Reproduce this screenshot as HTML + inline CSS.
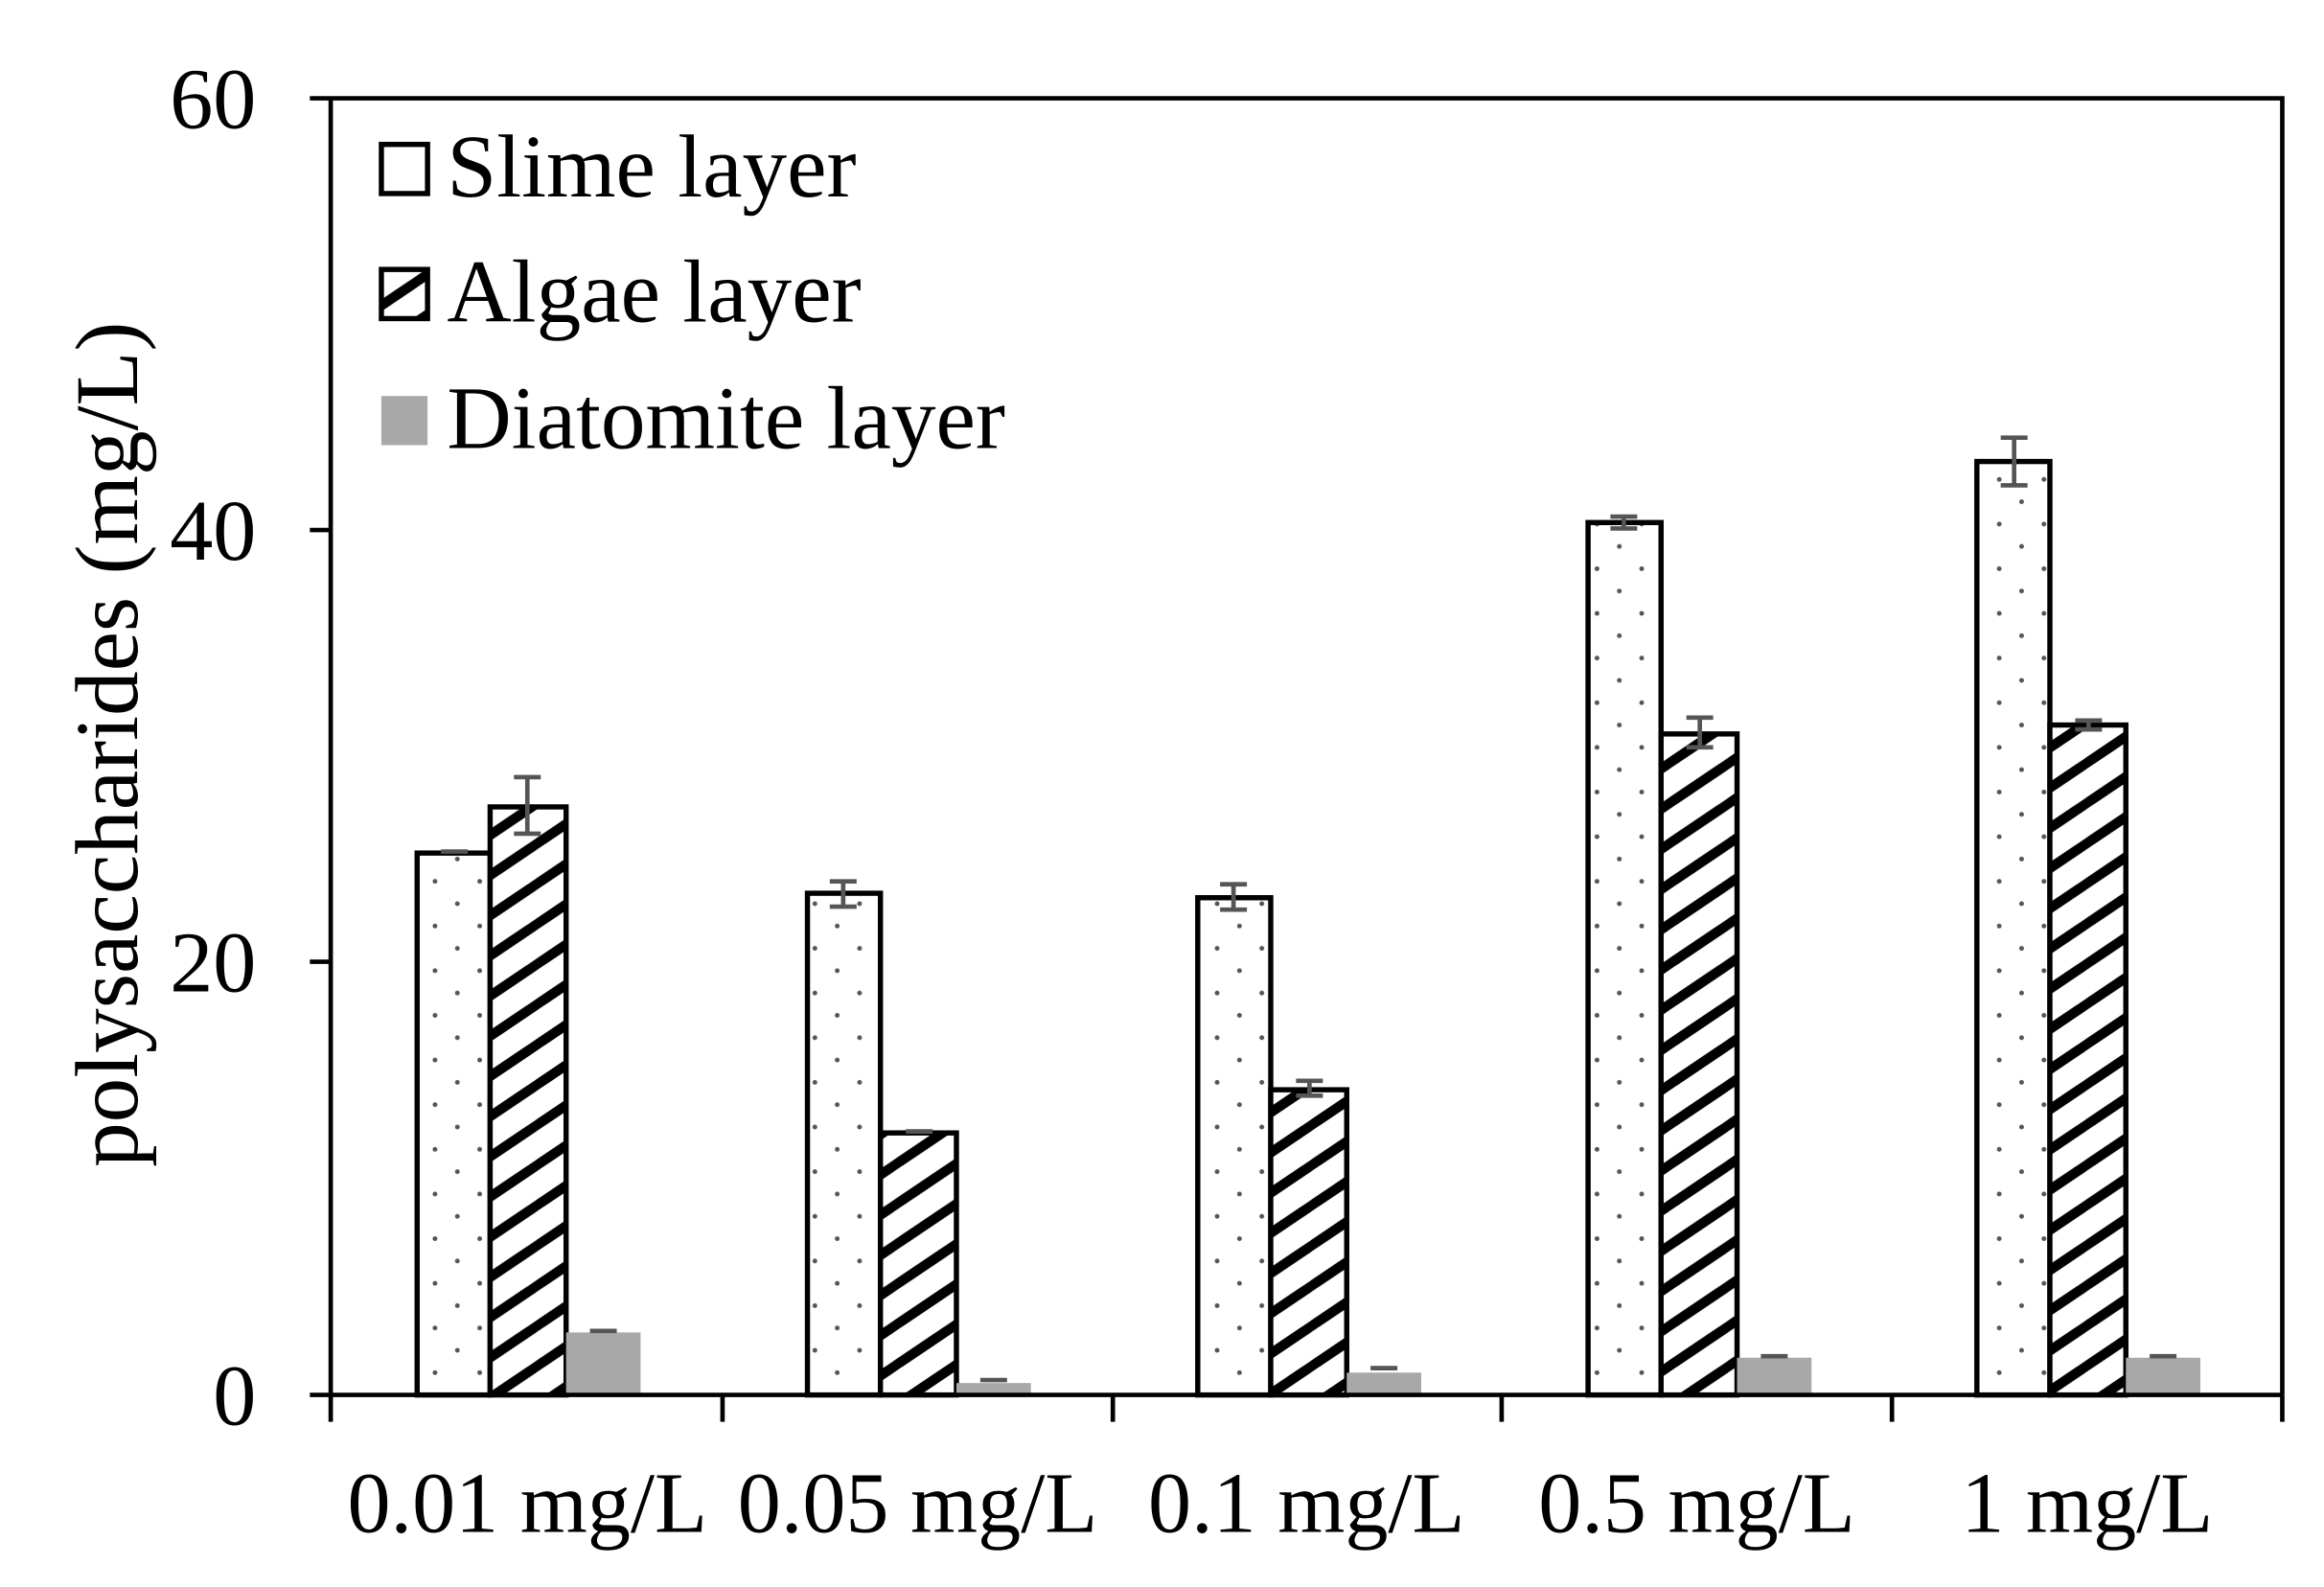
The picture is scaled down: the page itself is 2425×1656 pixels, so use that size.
<!DOCTYPE html>
<html><head><meta charset="utf-8"><style>html,body{margin:0;padding:0;background:#fff}svg{display:block}</style></head>
<body>
<svg width="2425" height="1656" viewBox="0 0 1560 1066" preserveAspectRatio="none" xmlns="http://www.w3.org/2000/svg" font-family="Liberation Serif, serif">
<defs>
<pattern id="dots" patternUnits="userSpaceOnUse" width="30" height="30">
<circle cx="7" cy="7" r="1.6" fill="#555"/><circle cx="22" cy="22" r="1.6" fill="#555"/>
</pattern>
<pattern id="hatch" patternUnits="userSpaceOnUse" width="40" height="27">
<line x1="-20" y1="40.5" x2="20" y2="13.5" stroke="#000" stroke-width="6.5"/>
<line x1="0" y1="27" x2="40" y2="0" stroke="#000" stroke-width="6.5"/>
<line x1="20" y1="13.5" x2="60" y2="-13.5" stroke="#000" stroke-width="6.5"/>
<line x1="-20" y1="13.5" x2="20" y2="-13.5" stroke="#000" stroke-width="6.5"/>
<line x1="20" y1="40.5" x2="60" y2="13.5" stroke="#000" stroke-width="6.5"/>
</pattern>
</defs>
<rect width="1560" height="1066" fill="#fff"/>
<!-- group 1 -->
<rect x="280" y="573" width="49" height="364" fill="#fff"/><rect x="280" y="573" width="49" height="364" fill="url(#dots)" stroke="#000" stroke-width="3.5"/>
<rect x="329" y="542" width="51" height="395" fill="#fff"/><rect x="329" y="542" width="51" height="395" fill="url(#hatch)" stroke="#000" stroke-width="3.5"/>
<rect x="380" y="895" width="50" height="42" fill="#a8a8a8"/>
<!-- group 2 -->
<rect x="542" y="600" width="49" height="337" fill="#fff"/><rect x="542" y="600" width="49" height="337" fill="url(#dots)" stroke="#000" stroke-width="3.5"/>
<rect x="591" y="761" width="51" height="176" fill="#fff"/><rect x="591" y="761" width="51" height="176" fill="url(#hatch)" stroke="#000" stroke-width="3.5"/>
<rect x="642" y="929" width="50" height="8" fill="#a8a8a8"/>
<!-- group 3 -->
<rect x="804" y="603" width="49" height="334" fill="#fff"/><rect x="804" y="603" width="49" height="334" fill="url(#dots)" stroke="#000" stroke-width="3.5"/>
<rect x="853" y="732" width="51" height="205" fill="#fff"/><rect x="853" y="732" width="51" height="205" fill="url(#hatch)" stroke="#000" stroke-width="3.5"/>
<rect x="904" y="922" width="50" height="15" fill="#a8a8a8"/>
<!-- group 4 -->
<rect x="1066" y="351" width="49" height="586" fill="#fff"/><rect x="1066" y="351" width="49" height="586" fill="url(#dots)" stroke="#000" stroke-width="3.5"/>
<rect x="1115" y="493" width="51" height="444" fill="#fff"/><rect x="1115" y="493" width="51" height="444" fill="url(#hatch)" stroke="#000" stroke-width="3.5"/>
<rect x="1166" y="912" width="50" height="25" fill="#a8a8a8"/>
<!-- group 5 -->
<rect x="1327" y="310" width="49" height="627" fill="#fff"/><rect x="1327" y="310" width="49" height="627" fill="url(#dots)" stroke="#000" stroke-width="3.5"/>
<rect x="1376" y="487" width="51" height="450" fill="#fff"/><rect x="1376" y="487" width="51" height="450" fill="url(#hatch)" stroke="#000" stroke-width="3.5"/>
<rect x="1427" y="912" width="50" height="25" fill="#a8a8a8"/>
<!-- error bars -->
<g stroke="#555" stroke-width="3" fill="none">
<path d="M296 572h18M345 522h18M354 522v38M345 560h18M396 894h18"/>
<path d="M557 592h18M566 592v17M557 609h18M608 760h18M658 927h18"/>
<path d="M819 594h18M828 594v17M819 611h18M870 726h18M879 726v10M870 736h18M920 919h18"/>
<path d="M1081 347h18M1090 347v8M1081 355h18M1132 482h18M1141 482v20M1132 502h18M1182 911h18"/>
<path d="M1343 294h18M1352 294v32M1343 326h18M1393 484h18M1402 484v6M1393 490h18M1443 911h18"/>
</g>
<!-- axes -->
<g stroke="#000" stroke-width="3" fill="none">
<path d="M222 66V937M208 66H1532V937M208 937H1532"/>
<path d="M208 356h14M208 646h14"/>
<path d="M222 937v18M485 937v18M747 937v18M1008 937v18M1270 937v18M1532 937v18"/>
</g>
<g font-size="58" fill="#000" text-anchor="end">
<text x="172" y="86">60</text><text x="172" y="376">40</text><text x="172" y="666">20</text><text x="172" y="957">0</text>
</g>
<g font-size="58" fill="#000" text-anchor="middle">
<text x="354" y="1029">0.01 mg/L</text><text x="616" y="1029">0.05 mg/L</text><text x="877" y="1029">0.1 mg/L</text><text x="1139" y="1029">0.5 mg/L</text><text x="1401" y="1029">1 mg/L</text>
</g>
<text transform="translate(92,500) rotate(-90)" font-size="60" text-anchor="middle">polysaccharides (mg/L)</text>
<!-- legend -->
<rect x="256" y="97" width="31" height="33" fill="#fff" stroke="#000" stroke-width="3.5"/>
<rect x="256" y="181" width="31" height="33" fill="url(#hatch)" stroke="#000" stroke-width="3.5"/>
<rect x="256" y="266" width="31" height="33" fill="#a8a8a8"/>
<g font-size="60" fill="#000">
<text x="300" y="132">Slime layer</text><text x="300" y="216">Algae layer</text><text x="300" y="301">Diatomite layer</text>
</g>
</svg>
</body></html>
